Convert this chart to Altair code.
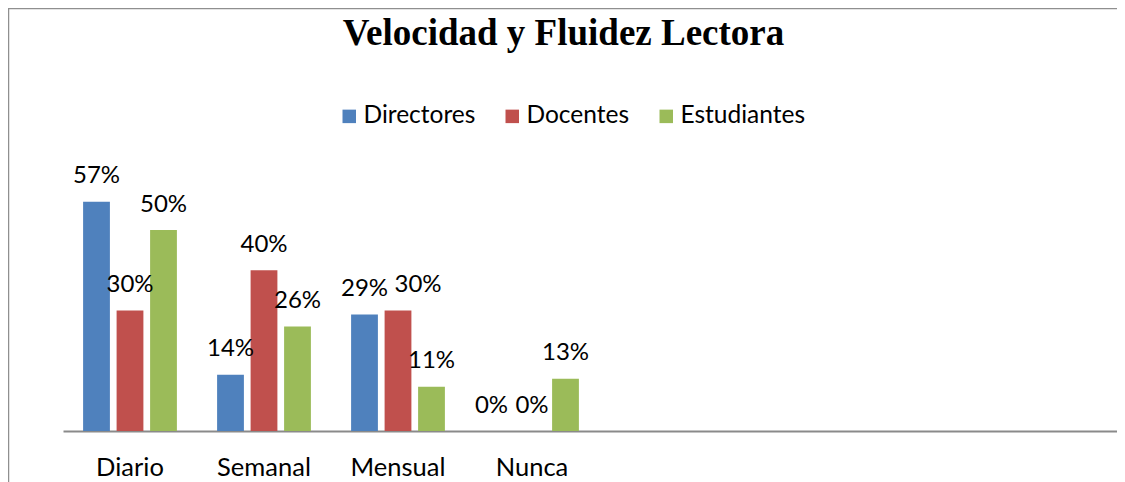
import altair as alt
import pandas as pd

# ---- data ----
title_text = "Velocidad y Fluidez Lectora"
categories = ["Diario", "Semanal", "Mensual", "Nunca"]
empty_slots = [" ", "  ", "   ", "    "]          # unlabeled category slots on the axis
series = ["Directores", "Docentes", "Estudiantes"]
directores = [57, 14, 29, 0]
docentes = [30, 40, 30, 0]
estudiantes = [50, 26, 11, 13]
colors = ["#4F81BD", "#C0504D", "#9BBB59"]

rows = []
for s, vals in zip(series, [directores, docentes, estudiantes]):
    for c, v in zip(categories, vals):
        rows.append({"categoria": c, "grupo": s, "valor": v})
df = pd.DataFrame(rows)

W, H = 1109, 474
axis_y = 423
px_per_pct = 4.02
font = "Lato"

domain_x = categories + empty_slots
x_enc = alt.X(
    "categoria:N",
    sort=domain_x,
    scale=alt.Scale(domain=domain_x, range=[55, 55 + 134 * len(domain_x)],
                    paddingInner=0.25, paddingOuter=0.125),
    axis=alt.Axis(title=None, orient="bottom", offset=axis_y - H,
                  domainColor="#8a8a8a", domainWidth=2, ticks=False, tickSize=0,
                  labelPadding=44, labelBaseline="alphabetic", labelFont=font,
                  labelFontSize=25.5, labelColor="#000000", labelAngle=0, grid=False),
)
xo_enc = alt.XOffset("grupo:N", sort=series,
                     scale=alt.Scale(domain=series, paddingInner=0.2, paddingOuter=0.1))
y_enc = alt.Y("valor:Q",
              scale=alt.Scale(domain=[0, 60], range=[axis_y, axis_y - 60 * px_per_pct],
                              nice=False, zero=True),
              axis=None)

base = alt.Chart(df)

bars = base.mark_bar().encode(
    x=x_enc, xOffset=xo_enc, y=y_enc,
    color=alt.Color("grupo:N", sort=series,
                    scale=alt.Scale(domain=series, range=colors),
                    legend=alt.Legend(title=None, orient="none", legendX=329, legendY=96,
                                      direction="horizontal", symbolType="square",
                                      symbolSize=182, symbolStrokeWidth=0,
                                      labelFont=font, labelFontSize=24.5, labelColor="#000000",
                                      labelOffset=2, columnPadding=24, padding=0)),
)

label_base = base.transform_calculate(label="datum.valor + '%'")
label_style = dict(baseline="alphabetic", dy=-18.5, font=font, fontSize=24, color="#000000")
label_enc = dict(x=x_enc, xOffset=xo_enc, y=y_enc, text="label:N")

# Labels that sit on top of their bars
labels = label_base.transform_filter(
    "!((datum.categoria == 'Mensual' && datum.grupo == 'Docentes') || "
    "(datum.categoria == 'Nunca' && datum.grupo == 'Directores'))"
).mark_text(**label_style).encode(**label_enc)
# Labels nudged sideways in the reference to avoid touching their neighbours
labels_right = label_base.transform_filter(
    "datum.categoria == 'Mensual' && datum.grupo == 'Docentes'"
).mark_text(dx=20, **label_style).encode(**label_enc)
labels_left = label_base.transform_filter(
    "datum.categoria == 'Nunca' && datum.grupo == 'Directores'"
).mark_text(dx=-7, **label_style).encode(**label_enc)

one = alt.Data(values=[{"t": title_text}])
title = alt.Chart(one).mark_text(font="Liberation Serif", fontWeight="bold", fontSize=37,
                                 baseline="alphabetic", align="center", color="#000000").encode(
    x=alt.value(555.5), y=alt.value(37), text="t:N"
)
frame_top = alt.Chart(one).mark_rule(color="#8f8f8f", strokeWidth=1.5).encode(
    x=alt.value(0), x2=alt.value(W), y=alt.value(0.5)
)
frame_left = alt.Chart(one).mark_rule(color="#8f8f8f", strokeWidth=1.5).encode(
    x=alt.value(0.5), y=alt.value(0), y2=alt.value(H)
)

chart = alt.layer(frame_top, frame_left, bars, labels, labels_right, labels_left, title).properties(
    width=W, height=H,
    autosize=alt.AutoSizeParams(type="none"),
    padding=0,
).configure_view(stroke=None)

chart.save("out.html", embed_options={"renderer": "svg", "actions": False})
